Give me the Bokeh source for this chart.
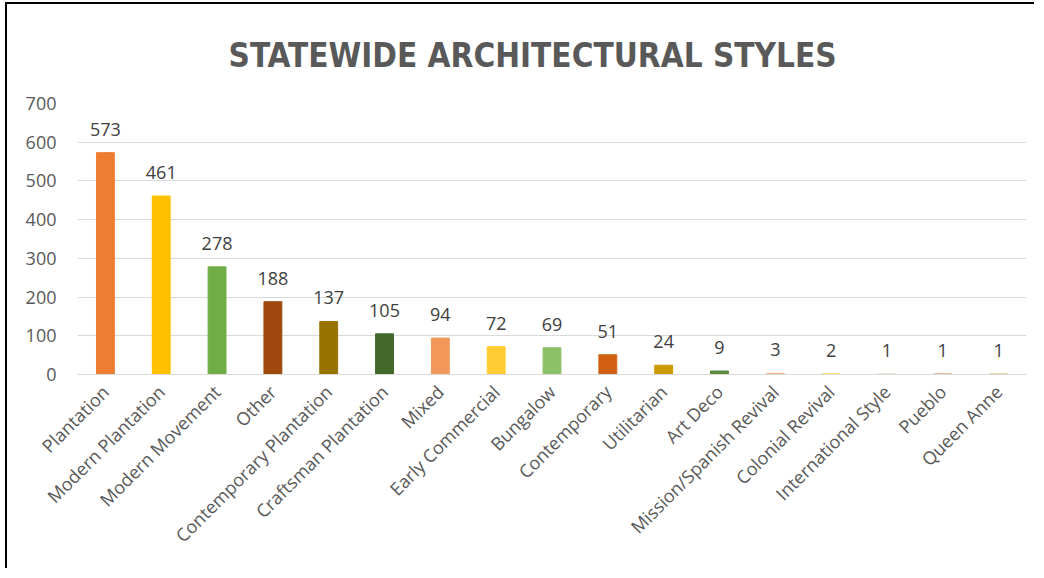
from math import pi
from bokeh.plotting import figure
from bokeh.models import ColumnDataSource, LabelSet, Range1d, FactorRange, SingleIntervalTicker
from bokeh.core.properties import value
from bokeh.embed import file_html
from bokeh.resources import INLINE

# ---- data ----
styles = ["Plantation", "Modern Plantation", "Modern Movement", "Other",
          "Contemporary Plantation", "Craftsman Plantation", "Mixed",
          "Early Commercial", "Bungalow", "Contemporary", "Utilitarian",
          "Art Deco", "Mission/Spanish Revival", "Colonial Revival",
          "International Style", "Pueblo", "Queen Anne"]
counts = [573, 461, 278, 188, 137, 105, 94, 72, 69, 51, 24, 9, 3, 2, 1, 1, 1]
colors = ["#ED7D31", "#FFC000", "#70AD47", "#9E480E", "#997300", "#43682B",
          "#F1975A", "#FFCD33", "#8CC168", "#D26012", "#CC9A00", "#5A8A39",
          "#F4B183", "#FFD966", "#A9D18E", "#C55A11", "#BF9000"]
title_text = "STATEWIDE ARCHITECTURAL STYLES"

src = ColumnDataSource(dict(style=styles, count=counts, color=colors,
                            label=[str(c) for c in counts]))

p = figure(x_range=FactorRange(*styles), y_range=Range1d(0, 700),
           width=1029, height=566, output_backend="svg", toolbar_location=None,
           min_border_left=70, min_border_right=10, min_border_top=98,
           min_border_bottom=196)
p.styles = {"border-top": "2px solid black", "border-left": "2px solid black",
            "margin-left": "5px", "margin-top": "2px"}

p.title.text = title_text
p.title.align = "left"
p.title.text_font = "DejaVu Sans Condensed"
p.title.text_font_size = "33px"
p.title.text_font_style = "bold"
p.title.text_color = "#595959"
p.title.standoff = 58
p.title.offset = 151

p.vbar(x="style", top="count", width=0.32, color="color", source=src)

labels = LabelSet(x="style", y="count", text="label", source=src,
                  text_align="center", text_baseline="alphabetic", y_offset=17,
                  text_font=value("Open Sans"), text_font_size="18px",
                  text_color="#404040")
p.add_layout(labels)

p.outline_line_color = None
p.xgrid.grid_line_color = None
p.ygrid.grid_line_color = "#D9D9D9"
p.ygrid.grid_line_width = 1

p.yaxis.ticker = SingleIntervalTicker(interval=100)
p.yaxis.axis_line_color = None
p.yaxis.major_tick_line_color = None
p.yaxis.minor_tick_line_color = None
p.yaxis.major_label_standoff = 15
p.yaxis.major_label_text_font = "Open Sans"
p.yaxis.major_label_text_font_size = "18px"
p.yaxis.major_label_text_color = "#595959"

p.xaxis.axis_line_color = "#D9D9D9"
p.xaxis.major_tick_line_color = None
p.xaxis.minor_tick_line_color = None
p.xaxis.major_label_orientation = pi / 4
p.xaxis.major_label_standoff = 8
p.xaxis.major_label_text_font = "Open Sans"
p.xaxis.major_label_text_font_size = "18px"
p.xaxis.major_label_text_color = "#595959"

open("out.html", "w").write(file_html(p, INLINE))
